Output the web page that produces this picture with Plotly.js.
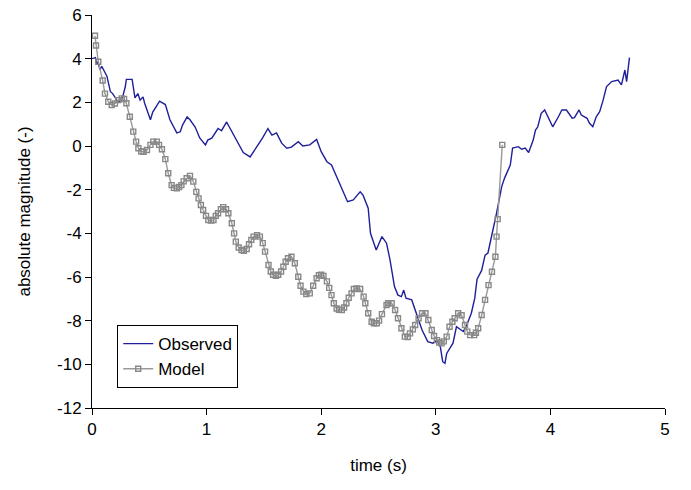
<!DOCTYPE html>
<html>
<head>
<meta charset="utf-8">
<script src="https://cdn.plot.ly/plotly-3.0.1.min.js"></script>
<style>html,body{margin:0;padding:0;background:#fff;}#chart{width:691px;height:490px;}</style>
</head>
<body>
<div id="chart"></div>
<script>
const obsTime = [0.00,0.03,0.04,0.05,0.07,0.085,0.11,0.13,0.16,0.18,0.23,0.26,0.29,0.30,0.35,0.375,0.40,0.42,0.445,0.46,0.51,0.53,0.59,0.64,0.68,0.74,0.77,0.79,0.83,0.855,0.90,0.94,0.99,1.01,1.045,1.10,1.13,1.175,1.19,1.23,1.27,1.32,1.38,1.44,1.49,1.535,1.57,1.61,1.655,1.70,1.74,1.80,1.84,1.90,1.96,2.00,2.05,2.09,2.15,2.19,2.23,2.28,2.34,2.365,2.41,2.43,2.48,2.53,2.57,2.60,2.64,2.67,2.70,2.72,2.74,2.79,2.83,2.88,2.93,2.975,3.01,3.04,3.06,3.08,3.095,3.12,3.15,3.18,3.21,3.24,3.27,3.31,3.34,3.36,3.40,3.43,3.455,3.50,3.53,3.575,3.60,3.65,3.67,3.72,3.75,3.78,3.81,3.85,3.87,3.89,3.92,3.95,3.98,4.02,4.07,4.10,4.14,4.19,4.21,4.25,4.27,4.32,4.34,4.37,4.40,4.43,4.46,4.49,4.535,4.59,4.62,4.65,4.665,4.68,4.69];
const obsMag = [4.0,4.05,3.75,3.85,3.5,3.65,3.4,3.2,2.5,2.4,2.0,2.1,2.7,3.05,3.05,2.2,2.4,2.1,2.25,1.95,1.2,1.55,2.05,1.9,1.2,0.6,0.65,0.96,1.33,1.2,0.87,0.37,0.05,0.27,0.36,0.8,0.7,1.1,0.95,0.55,0.13,-0.3,-0.5,-0.03,0.38,0.8,0.5,0.6,0.13,-0.1,-0.05,0.2,0.0,0.05,0.3,-0.26,-0.72,-0.87,-1.56,-2.1,-2.55,-2.47,-2.1,-2.25,-2.85,-4.0,-4.76,-4.15,-4.45,-5.2,-6.45,-6.83,-6.9,-6.6,-6.97,-7.05,-7.66,-8.43,-8.96,-9.03,-8.9,-9.2,-9.88,-9.95,-9.5,-9.26,-9.03,-8.28,-8.4,-8.5,-8.2,-7.66,-6.97,-6.1,-5.7,-5.0,-4.9,-3.85,-3.08,-1.86,-1.47,-0.87,-0.1,-0.03,-0.15,-0.1,-0.3,0.27,0.73,0.88,1.5,1.65,1.34,0.88,1.34,1.65,1.65,1.27,1.3,1.65,1.42,1.27,1.05,0.88,1.34,1.57,2.1,2.72,2.95,3.02,2.8,3.48,2.95,3.7,4.05];

const modelTime = [0.026,0.035,0.055,0.093,0.113,0.142,0.172,0.20,0.23,0.26,0.28,0.30,0.33,0.36,0.385,0.405,0.43,0.45,0.48,0.51,0.535,0.565,0.585,0.61,0.64,0.665,0.695,0.715,0.74,0.76,0.78,0.80,0.826,0.855,0.884,0.91,0.93,0.95,0.97,0.995,1.015,1.04,1.06,1.08,1.10,1.125,1.145,1.17,1.19,1.22,1.24,1.255,1.28,1.305,1.325,1.35,1.37,1.39,1.41,1.44,1.465,1.49,1.51,1.54,1.56,1.58,1.605,1.625,1.65,1.67,1.69,1.71,1.74,1.77,1.80,1.82,1.845,1.87,1.90,1.93,1.96,1.98,2.00,2.02,2.05,2.07,2.09,2.11,2.135,2.155,2.18,2.20,2.22,2.24,2.265,2.285,2.31,2.34,2.37,2.385,2.41,2.44,2.46,2.485,2.505,2.53,2.57,2.585,2.615,2.645,2.67,2.70,2.73,2.755,2.775,2.80,2.82,2.85,2.88,2.91,2.935,2.965,2.985,3.01,3.03,3.05,3.07,3.095,3.12,3.145,3.165,3.195,3.225,3.255,3.275,3.30,3.335,3.35,3.37,3.40,3.43,3.46,3.49,3.52,3.53,3.54,3.58];
const modelMag = [5.05,4.6,3.86,3.0,2.4,2.03,1.88,1.95,2.1,2.18,2.15,1.96,1.34,0.66,0.2,-0.1,-0.25,-0.26,-0.18,0.05,0.2,0.2,0.05,-0.15,-0.6,-1.25,-1.79,-1.92,-1.94,-1.88,-1.79,-1.62,-1.48,-1.37,-1.63,-2.1,-2.4,-2.7,-2.93,-3.2,-3.39,-3.42,-3.39,-3.2,-3.08,-2.9,-2.8,-2.9,-3.08,-3.54,-4.0,-4.38,-4.65,-4.76,-4.8,-4.72,-4.5,-4.3,-4.15,-4.08,-4.15,-4.45,-4.84,-5.45,-5.75,-5.9,-5.95,-5.9,-5.75,-5.53,-5.3,-5.14,-5.07,-5.37,-5.99,-6.4,-6.67,-6.78,-6.75,-6.4,-6.06,-5.92,-5.9,-5.95,-6.2,-6.5,-6.83,-7.2,-7.44,-7.5,-7.51,-7.4,-7.2,-6.95,-6.75,-6.55,-6.52,-6.55,-6.9,-7.2,-7.66,-8.05,-8.12,-8.12,-8.0,-7.7,-7.28,-7.2,-7.2,-7.51,-7.89,-8.35,-8.73,-8.75,-8.58,-8.4,-8.2,-7.89,-7.66,-7.66,-7.97,-8.43,-8.7,-8.89,-9.0,-9.04,-8.95,-8.73,-8.28,-8.05,-7.89,-7.66,-7.75,-8.2,-8.5,-8.66,-8.66,-8.55,-8.35,-7.74,-7.05,-6.37,-5.76,-5.07,-4.15,-3.35,0.05];

const xTicks = [0,1,2,3,4,5];
const yTicks = [-12,-10,-8,-6,-4,-2,0,2,4,6];

const font = {family: 'Liberation Sans, Arial, sans-serif', size: 17, color: '#000'};

const traces = [
  {x: obsTime, y: obsMag, name: 'Observed', type: 'scatter', mode: 'lines',
   line: {color: '#1f1f99', width: 1.4}},
  {x: modelTime, y: modelMag, name: 'Model', type: 'scatter', mode: 'lines+markers',
   line: {color: '#999999', width: 1.4},
   marker: {symbol: 'square-open', size: 5, color: '#888888', line: {width: 1.4, color: '#888888'}}}
];

const layout = {
  width: 691, height: 490,
  margin: {l: 92, r: 26, t: 15, b: 82},
  paper_bgcolor: '#fff', plot_bgcolor: '#fff',
  font: font,
  showlegend: true,
  legend: {x: 0.044, y: 0.211, xanchor: 'left', yanchor: 'top',
    bgcolor: '#fff', bordercolor: '#000', borderwidth: 1, font: font,
    tracegroupgap: 0},
  xaxis: {range: [0, 5], tickvals: xTicks, ticktext: xTicks.map(String),
    showgrid: false, zeroline: false, showline: true, linecolor: '#000', linewidth: 1,
    ticks: 'outside', ticklen: 6, tickcolor: '#000', tickfont: font,
    title: {text: 'time (s)', font: font, standoff: 20}},
  yaxis: {range: [-12, 6], tickvals: yTicks, ticktext: yTicks.map(String),
    showgrid: false, zeroline: false, showline: true, linecolor: '#000', linewidth: 1,
    ticks: 'outside', ticklen: 6, tickcolor: '#000', tickfont: font,
    title: {text: 'absolute magnitude (-)', font: font, standoff: 22}}
};

Plotly.newPlot('chart', traces, layout, {displayModeBar: false, staticPlot: true});
</script>
</body>
</html>
